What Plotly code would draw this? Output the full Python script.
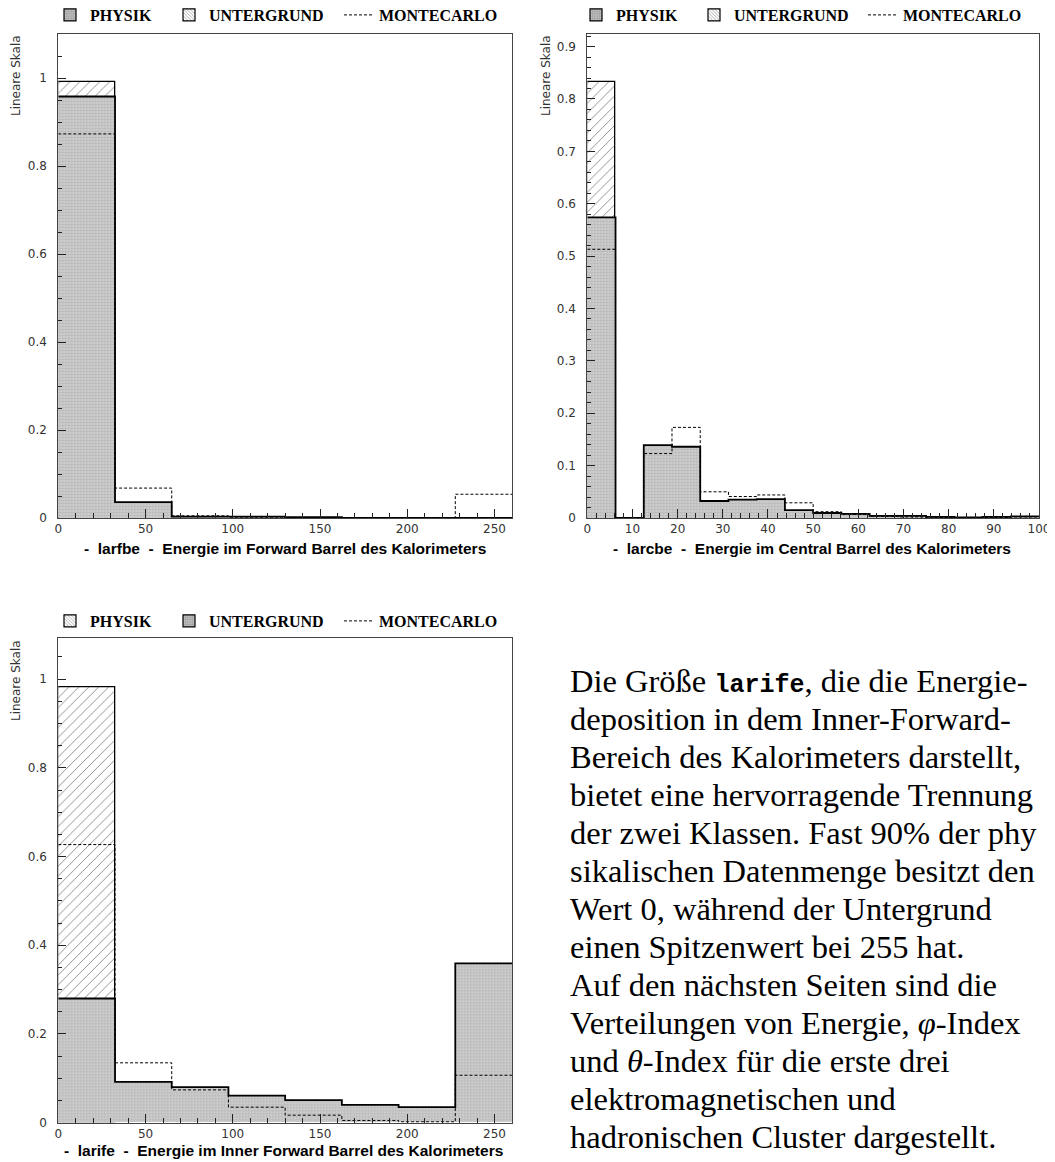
import plotly.graph_objects as go

# ---------------- data ----------------
edges_fb = [0, 32.5, 65, 97.5, 130, 162.5, 195, 227.5, 260]
physik_fb = [0.958, 0.036, 0.003, 0.003, 0.002, 0.0, 0.0, 0.0]
untergrund_fb = [0.992, 0.020, 0.002, 0.001, 0.001, 0.0, 0.0, 0.0]
montecarlo_fb = [0.873, 0.068, 0.005, 0.002, 0.001, 0.0, 0.0, 0.054]

edges_cb = [0, 6.25, 12.5, 18.75, 25, 31.25, 37.5, 43.75, 50,
            56.25, 62.5, 68.75, 75, 81.25, 87.5, 93.75, 100]
physik_cb = [0.574, 0.0, 0.139, 0.136, 0.0325, 0.035, 0.036, 0.015,
             0.0095, 0.008, 0.004, 0.004, 0.002, 0.001, 0.002, 0.003]
untergrund_cb = [0.832, 0.0, 0.100, 0.090, 0.020, 0.020, 0.020, 0.010,
                 0.005, 0.004, 0.002, 0.001, 0.001, 0.0, 0.001, 0.001]
montecarlo_cb = [0.513, 0.0, 0.123, 0.173, 0.050, 0.041, 0.044, 0.029,
                 0.012, 0.007, 0.003, 0.002, 0.001, 0.001, 0.001, 0.002]

edges_if = [0, 32.5, 65, 97.5, 130, 162.5, 195, 227.5, 260]
physik_if = [0.981, 0.030, 0.020, 0.010, 0.010, 0.005, 0.005, 0.0]
untergrund_if = [0.280, 0.092, 0.080, 0.061, 0.051, 0.040, 0.035, 0.359]
montecarlo_if = [0.627, 0.135, 0.074, 0.035, 0.017, 0.005, 0.002, 0.107]

series_names = ["PHYSIK", "UNTERGRUND", "MONTECARLO"]
x_titles = [
    "-\u00a0\u00a0larfbe\u00a0\u00a0-\u00a0\u00a0Energie im Forward Barrel des Kalorimeters",
    "-\u00a0\u00a0larcbe\u00a0\u00a0-\u00a0\u00a0Energie im Central Barrel des Kalorimeters",
    "-\u00a0\u00a0larife\u00a0\u00a0-\u00a0\u00a0Energie im Inner Forward Barrel des Kalorimeters",
]
y_title = "Lineare Skala"
text_lines = [
    "Die Größe <span style=\"font-family:'Liberation Mono';font-weight:bold;font-size:25px\">larife</span>, die die Energie-",
    "deposition in dem Inner-Forward-",
    "Bereich des Kalorimeters darstellt,",
    "bietet eine hervorragende Trennung",
    "der zwei Klassen. Fast 90% der phy",
    "sikalischen Datenmenge besitzt den",
    "Wert 0, während der Untergrund",
    "einen Spitzenwert bei 255 hat.",
    "Auf den nächsten Seiten sind die",
    "Verteilungen von Energie, <i>φ</i>-Index",
    "und <i>θ</i>-Index für die erste drei",
    "elektromagnetischen und",
    "hadronischen Cluster dargestellt.",
]

# ---------------- helpers ----------------
PAGE_OFF = 8                      # default body margin of the html page
W, H = 1055 - PAGE_OFF, 1162 - PAGE_OFF


def px_x(v):
    return (v - PAGE_OFF) / W


def px_y(v):
    return 1 - (v - PAGE_OFF) / H


def centers(e):
    return [(a + b) / 2 for a, b in zip(e[:-1], e[1:])]


def widths(e):
    return [b - a for a, b in zip(e[:-1], e[1:])]


GRAY_PAT = dict(shape="+", fgcolor="#9c9c9c", bgcolor="#cdcdcd", size=3, solidity=0.35)
GRAY = dict(color="#c8c8c8", pattern=GRAY_PAT, line=dict(width=0))
GRAY_LEG = dict(color="#c8c8c8", pattern=dict(shape="+", fgcolor="#7a7a7a", bgcolor="#bdbdbd",
                                              size=3, solidity=0.35),
                line=dict(color="black", width=1.2))
HATCH_PAT = dict(shape="/", fgcolor="#222222", bgcolor="white", size=7, solidity=0.14)
HATCH_LEG = dict(color="white",
                 pattern=dict(shape="\\", fgcolor="#222222", bgcolor="white",
                              size=3, solidity=0.3),
                 line=dict(color="black", width=1.2))

fig = go.Figure()


def panel(n, edges, hatch_vals, hatch_name, gray_vals, gray_name, mc_vals, legs):
    xa = "x" if n == 1 else f"x{n}"
    ya = "y" if n == 1 else f"y{n}"
    c = centers(edges)
    w = widths(edges)
    # outline the hatched histogram only where it rises above the grey one
    hatch_lw = [1.3 if h > g else 0 for h, g in zip(hatch_vals, gray_vals)]
    fig.add_trace(go.Bar(x=c, y=hatch_vals, width=w, name=hatch_name,
                         marker=dict(color="white", pattern=HATCH_PAT,
                                     line=dict(color="black", width=hatch_lw)),
                         xaxis=xa, yaxis=ya, showlegend=False))
    fig.add_trace(go.Bar(x=c, y=gray_vals, width=w, marker=GRAY, name=gray_name,
                         xaxis=xa, yaxis=ya, showlegend=False))
    fig.add_trace(go.Scatter(x=edges, y=list(gray_vals) + [gray_vals[-1]], mode="lines",
                             line=dict(color="black", width=1.8, shape="hv"),
                             xaxis=xa, yaxis=ya, showlegend=False, hoverinfo="skip"))
    fig.add_trace(go.Scatter(x=edges, y=list(mc_vals) + [mc_vals[-1]], mode="lines",
                             line=dict(color="black", width=1, shape="hv", dash="3px,2px"),
                             name="MONTECARLO", xaxis=xa, yaxis=ya,
                             legend=legs["MONTECARLO"], showlegend=True))
    # legend-only entries (no data drawn)
    fig.add_trace(go.Bar(x=[None], y=[None], marker=HATCH_LEG, name=hatch_name,
                         xaxis=xa, yaxis=ya, legend=legs[hatch_name], showlegend=True))
    fig.add_trace(go.Bar(x=[None], y=[None], marker=GRAY_LEG, name=gray_name,
                         xaxis=xa, yaxis=ya, legend=legs[gray_name], showlegend=True))


panel(1, edges_fb, untergrund_fb, "UNTERGRUND", physik_fb, "PHYSIK", montecarlo_fb,
      {"PHYSIK": "legend", "UNTERGRUND": "legend2", "MONTECARLO": "legend3"})
panel(2, edges_cb, untergrund_cb, "UNTERGRUND", physik_cb, "PHYSIK", montecarlo_cb,
      {"PHYSIK": "legend4", "UNTERGRUND": "legend5", "MONTECARLO": "legend6"})
panel(3, edges_if, physik_if, "PHYSIK", untergrund_if, "UNTERGRUND", montecarlo_if,
      {"PHYSIK": "legend7", "UNTERGRUND": "legend8", "MONTECARLO": "legend9"})

TICKFONT = dict(family="DejaVu Sans", size=12, color="#333333")


def xaxis(domain, rng, dt, mdt, anchor):
    return dict(domain=domain, range=rng, dtick=dt, tick0=0, ticks="inside", ticklen=9,
                tickwidth=1, tickcolor="#222", showline=True, mirror=True,
                linecolor="#444", linewidth=1, showgrid=False, zeroline=False,
                tickfont=TICKFONT, anchor=anchor, ticklabelstandoff=0, automargin=False,
                minor=dict(dtick=mdt, ticks="inside", ticklen=5, tickcolor="#222"))


def yaxis(domain, rng, dt, mdt, anchor):
    return dict(domain=domain, range=rng, dtick=dt, tick0=0, ticks="inside", ticklen=8,
                tickwidth=1, tickcolor="#222", showline=True, mirror=True,
                linecolor="#444", linewidth=1, showgrid=False, zeroline=False,
                tickfont=TICKFONT, anchor=anchor, ticklabelstandoff=8, automargin=False,
                minor=dict(dtick=mdt, ticks="inside", ticklen=4, tickcolor="#222"))


dx_left = [px_x(58.3), px_x(512)]
dx_right = [px_x(587.3), px_x(1039)]
dy_top = [px_y(518), px_y(34)]
dy_bot = [px_y(1122.7), px_y(638.3)]

layout = dict(
    width=W, height=H, margin=dict(l=0, r=0, t=0, b=0, autoexpand=False),
    paper_bgcolor="white", plot_bgcolor="white", barmode="overlay", bargap=0,
    xaxis=xaxis(dx_left, [0, 260], 50, 10, "y"),
    yaxis=yaxis(dy_top, [0, 1.10], 0.2, 0.05, "x"),
    xaxis2=xaxis(dx_right, [0, 100], 10, 2, "y2"),
    yaxis2=yaxis(dy_top, [0, 0.924], 0.1, 0.02, "x2"),
    xaxis3=xaxis(dx_left, [0, 260], 50, 10, "y3"),
    yaxis3=yaxis(dy_bot, [0, 1.092], 0.2, 0.05, "x3"),
)

LEGFONT = dict(family="Liberation Serif", size=16, color="black", weight="bold")
leg_pos = {
    "legend": (90, 15), "legend2": (209, 15), "legend3": (379, 15),
    "legend4": (616, 15), "legend5": (734, 15), "legend6": (903, 15),
    "legend7": (90, 621), "legend8": (209, 621), "legend9": (379, 621),
}
for k, (tx, ty) in leg_pos.items():
    layout[k] = dict(x=px_x(tx - 40), y=px_y(ty), xanchor="left", yanchor="middle",
                     orientation="h", bgcolor="rgba(0,0,0,0)", borderwidth=0,
                     font=LEGFONT, itemwidth=30)

annotations = []
# x-axis titles
for t, (cx, cy) in zip(x_titles, [(285, 548), (812, 548), (284, 1150)]):
    annotations.append(dict(text=t, x=px_x(cx), y=px_y(cy), xref="paper", yref="paper",
                            xanchor="center", yanchor="middle", showarrow=False,
                            font=dict(family="Liberation Sans", size=15.5, color="black",
                                      weight="bold")))
# y-axis labels
for (cx, cy) in [(16, 76), (546, 76), (16, 681)]:
    annotations.append(dict(text=y_title, x=px_x(cx), y=px_y(cy), xref="paper", yref="paper",
                            xanchor="center", yanchor="middle", showarrow=False, textangle=-90,
                            font=dict(family="DejaVu Sans", size=12, color="#333333")))
# paragraph
for i, line in enumerate(text_lines):
    annotations.append(dict(text=line, x=px_x(568), y=px_y(681 + i * 38.0),
                            xref="paper", yref="paper", xanchor="left", yanchor="middle",
                            showarrow=False,
                            font=dict(family="Liberation Serif", size=32.5, color="black")))
layout["annotations"] = annotations

fig.update_layout(**layout)
fig.write_html("out.html")
